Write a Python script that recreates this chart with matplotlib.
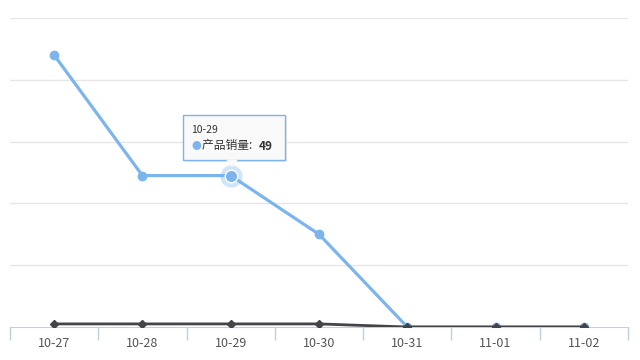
import matplotlib
matplotlib.use("Agg")
import matplotlib.pyplot as plt
from matplotlib.patches import FancyBboxPatch, Polygon

plt.rcParams['font.family'] = ['Noto Sans CJK SC', 'DejaVu Sans']

categories = ["10-27", "10-28", "10-29", "10-30", "10-31", "11-01", "11-02"]
sales = [88, 49, 49, 30, 0, 0, 0]
other = [1, 1, 1, 1, 0, 0, 0]
yticks = [0, 20, 40, 60, 80, 100]
series_name = "产品销量"
hover_idx = 2

fig = plt.figure(figsize=(6.4, 3.6), dpi=100)
ax = fig.add_axes([10/640, 1-327/360, 618/640, 309/360])
x = list(range(len(categories)))
ax.set_xlim(-0.5, len(categories)-0.5)
ax.set_ylim(0, 100)

for t in yticks[1:]:
    ax.axhline(t, color="#e6e6e6", lw=1, zorder=0)

ax.plot(x, sales, color="#7cb5ec", lw=2.3, marker="o", ms=6, zorder=3)
ax.plot(x, other, color="#434348", lw=2, marker="D", ms=4.5, zorder=4)
# hover point
ax.plot([x[hover_idx]], [sales[hover_idx]], marker="o", ms=16, color="#7cb5ec", alpha=0.35, zorder=2, mec="none")
ax.plot([x[hover_idx]], [sales[hover_idx]], marker="o", ms=9, color="#7cb5ec", mec="white", mew=1, zorder=5)

for s in ["top", "right", "left"]:
    ax.spines[s].set_visible(False)
ax.spines["bottom"].set_color("#c0d0e0")
ax.set_yticks([])
ax.set_xticks([i - 0.5 for i in range(len(categories)+1)], minor=False)
ax.set_xticklabels([])
ax.tick_params(axis="x", which="major", length=9, color="#c0d0e0", width=1)
ax.set_xticks(x, minor=True)
ax.set_xticklabels(categories, minor=True)
ax.tick_params(axis="x", which="minor", length=0, pad=7, labelsize=9, labelcolor="#555555")

# tooltip
bx0, by0, bw, bh = 183, 200, 102, 45  # pixel coords (y from bottom)
shadow = FancyBboxPatch(((bx0+2)/640, (by0-2)/360), bw/640, bh/360, boxstyle="square,pad=0",
                        transform=fig.transFigure, fc="#dddddd", ec="none", alpha=0.6, zorder=9)
fig.patches.append(shadow)
tip = FancyBboxPatch((bx0/640, by0/360), bw/640, bh/360, boxstyle="square,pad=0",
                     transform=fig.transFigure, fc="#f9f9f9", ec="#7cb5ec", lw=1, zorder=10)
fig.patches.append(tip)
tri = Polygon([[226/640, by0/360+0.001], [238/640, by0/360+0.001], [232/640, (by0-7)/360]],
              closed=True, transform=fig.transFigure, fc="#f9f9f9", ec="none", zorder=11)
fig.patches.append(tri)
fig.text(191/640, 230/360, categories[hover_idx], fontsize=7.5, color="#333333", va="center", zorder=12)
fig.text(191/640, 214/360, "●", fontsize=7, color="#7cb5ec", va="center", zorder=12)
fig.text(202/640, 214/360, series_name + ": ", fontsize=8.5, color="#333333", va="center", zorder=12)
fig.text(259/640, 214/360, str(sales[hover_idx]), fontsize=8.5, color="#333333", va="center", fontweight="bold", zorder=12)

fig.savefig("out.png", dpi=100)
